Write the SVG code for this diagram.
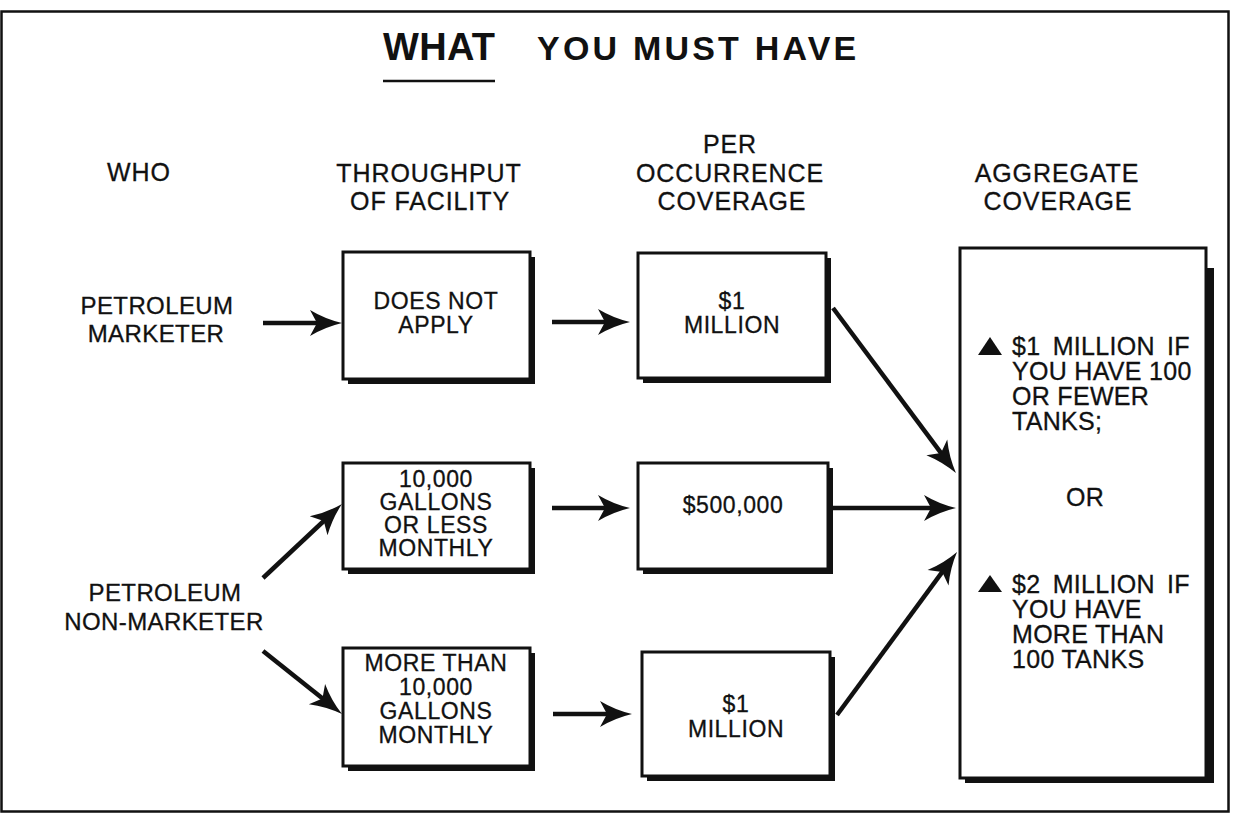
<svg xmlns="http://www.w3.org/2000/svg" width="1233" height="816" viewBox="0 0 1233 816">
  <defs>
    <style>
      text { font-family: "Liberation Sans", Arial, Helvetica, sans-serif; fill: #111; }
      .title { font-weight: bold; }
      .hd { font-size: 25px; letter-spacing: 0.9px; text-anchor: middle; stroke: #111; stroke-width: 0.3; }
      .lbl { font-size: 24px; letter-spacing: 0.4px; text-anchor: middle; stroke: #111; stroke-width: 0.3; }
      .bx { font-size: 23px; letter-spacing: 0.6px; text-anchor: middle; stroke: #111; stroke-width: 0.3; }
      .ag { font-size: 25px; letter-spacing: 0.3px; stroke: #111; stroke-width: 0.3; }
      .box { fill: #fff; stroke: #111; stroke-width: 3; }
      .shadow { fill: #111; }
      .conn { stroke: #111; stroke-width: 4.5; fill: none; marker-end: url(#ah); }
    </style>
    <!-- barbed arrowhead; its tip sits 22px beyond the end of the line -->
    <marker id="ah" markerUnits="userSpaceOnUse" markerWidth="44" markerHeight="32" viewBox="-14 -16 44 32" refX="0" refY="0" orient="auto" overflow="visible">
      <path d="M22,0 Q5,-4 -10,-13 L-3,0 L-10,13 Q5,4 22,0 Z" fill="#111"/>
    </marker>
  </defs>

  <rect width="1233" height="816" fill="#fff"/>
  <!-- outer frame -->
  <rect x="1.5" y="11.5" width="1227" height="800" fill="none" stroke="#111" stroke-width="2.5"/>

  <!-- title -->
  <g id="title">
    <text class="title" x="383" y="60" font-size="38" letter-spacing="0.3">WHAT</text>
    <line x1="383" y1="81" x2="495" y2="81" stroke="#111" stroke-width="2.5"/>
    <text class="title" x="537" y="60" font-size="34" letter-spacing="3.2">YOU MUST HAVE</text>
  </g>

  <!-- column headings -->
  <g id="headings">
    <text class="hd" x="139" y="181">WHO</text>
    <text class="hd"><tspan x="429" y="182">THROUGHPUT</tspan><tspan x="430" y="210">OF FACILITY</tspan></text>
    <text class="hd"><tspan x="730" y="153">PER</tspan><tspan x="730" y="182">OCCURRENCE</tspan><tspan x="732" y="210">COVERAGE</tspan></text>
    <text class="hd"><tspan x="1057" y="182">AGGREGATE</tspan><tspan x="1058" y="210">COVERAGE</tspan></text>
  </g>

  <!-- row labels -->
  <g id="marketer">
    <text class="lbl"><tspan x="157" y="314">PETROLEUM</tspan><tspan x="156" y="342">MARKETER</tspan></text>
  </g>
  <g id="non-marketer">
    <text class="lbl"><tspan x="165" y="601">PETROLEUM</tspan><tspan x="164" y="630">NON-MARKETER</tspan></text>
  </g>

  <!-- throughput boxes -->
  <g id="tp-na">
    <rect class="shadow" x="348" y="257" width="187" height="127"/>
    <rect class="box" x="343" y="252" width="187" height="127"/>
    <text class="bx"><tspan x="436" y="309">DOES NOT</tspan><tspan x="436" y="333">APPLY</tspan></text>
  </g>
  <g id="tp-low">
    <rect class="shadow" x="348" y="468" width="187" height="106"/>
    <rect class="box" x="343" y="463" width="187" height="106"/>
    <text class="bx"><tspan x="436" y="487">10,000</tspan><tspan x="436" y="510">GALLONS</tspan><tspan x="436" y="533">OR LESS</tspan><tspan x="436" y="556">MONTHLY</tspan></text>
  </g>
  <g id="tp-high">
    <rect class="shadow" x="348" y="653" width="187" height="118"/>
    <rect class="box" x="343" y="648" width="187" height="118"/>
    <text class="bx"><tspan x="436" y="671">MORE THAN</tspan><tspan x="436" y="695">10,000</tspan><tspan x="436" y="719">GALLONS</tspan><tspan x="436" y="743">MONTHLY</tspan></text>
  </g>

  <!-- per occurrence boxes -->
  <g id="po-mkt">
    <rect class="shadow" x="643" y="258" width="188" height="125"/>
    <rect class="box" x="638" y="253" width="188" height="125"/>
    <text class="bx"><tspan x="732" y="309">$1</tspan><tspan x="732" y="333">MILLION</tspan></text>
  </g>
  <g id="po-low">
    <rect class="shadow" x="643" y="468" width="190" height="106"/>
    <rect class="box" x="638" y="463" width="190" height="106"/>
    <text class="bx" x="733" y="513">$500,000</text>
  </g>
  <g id="po-high">
    <rect class="shadow" x="647" y="657" width="188" height="124"/>
    <rect class="box" x="642" y="652" width="188" height="124"/>
    <text class="bx"><tspan x="736" y="712">$1</tspan><tspan x="736" y="737">MILLION</tspan></text>
  </g>

  <!-- aggregate box -->
  <g id="aggregate">
    <path class="shadow" d="M1206,268 H1214 V783 H965 V778 H1206 Z"/>
    <rect class="box" x="960" y="248" width="246" height="530"/>
    <polygon points="978,355 990,337 1002,355" fill="#111"/>
    <text class="ag"><tspan x="1012" y="355" word-spacing="5">$1 MILLION IF</tspan><tspan x="1012" y="380">YOU HAVE 100</tspan><tspan x="1012" y="405">OR FEWER</tspan><tspan x="1012" y="430">TANKS;</tspan></text>
    <text class="ag" x="1085" y="506" text-anchor="middle">OR</text>
    <polygon points="978,592 990,575 1002,592" fill="#111"/>
    <text class="ag"><tspan x="1012" y="593" word-spacing="5">$2 MILLION IF</tspan><tspan x="1012" y="618">YOU HAVE</tspan><tspan x="1012" y="643">MORE THAN</tspan><tspan x="1012" y="668">100 TANKS</tspan></text>
  </g>

  <!-- connectors -->
  <g id="connectors">
    <line class="conn" x1="263" y1="323" x2="320" y2="323"/>
    <line class="conn" x1="552" y1="322" x2="608" y2="322"/>
    <line class="conn" x1="833" y1="308" x2="942.8" y2="455.4"/>
    <line class="conn" x1="552" y1="508" x2="608" y2="508"/>
    <line class="conn" x1="833" y1="508" x2="934" y2="508"/>
    <line class="conn" x1="837" y1="715" x2="944" y2="569.7"/>
    <line class="conn" x1="263" y1="578" x2="325.9" y2="519.0"/>
    <line class="conn" x1="263" y1="651" x2="324.8" y2="700.3"/>
    <line class="conn" x1="553" y1="714" x2="610" y2="714"/>
  </g>
</svg>
